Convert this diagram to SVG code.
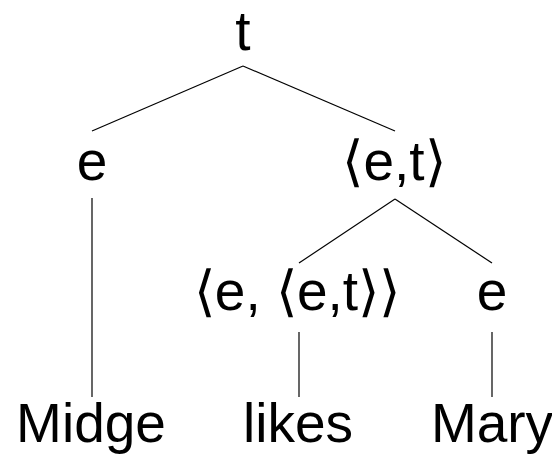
<svg xmlns="http://www.w3.org/2000/svg" width="552" height="454" viewBox="0 0 552 454">
  <style>
    .lbl { font-family: "Liberation Sans", Arial, sans-serif; font-size: 55px; fill: #000; text-anchor: middle; }
    .br { font-family: "DejaVu Sans", sans-serif; font-weight: 200; }
    .edge { stroke: #000; stroke-width: 1.2; fill: none; }
  </style>
  <rect width="552" height="454" fill="#fff"/>

  <!-- tree edges -->
  <g id="edges">
    <line class="edge" x1="243" y1="66" x2="92" y2="131"/>
    <line class="edge" x1="243" y1="66" x2="395" y2="131"/>
    <line class="edge" x1="395" y1="199" x2="299" y2="263"/>
    <line class="edge" x1="395" y1="199" x2="492" y2="263"/>
    <line class="edge" x1="92" y1="198" x2="92" y2="397"/>
    <line class="edge" x1="299" y1="332" x2="299" y2="397"/>
    <line class="edge" x1="492" y1="332" x2="492" y2="397"/>
  </g>

  <!-- type nodes -->
  <g id="n-t"><text class="lbl" x="243" y="50">t</text></g>
  <g id="n-e1"><text class="lbl" x="92" y="180">e</text></g>
  <g id="n-et"><text class="lbl" x="394" y="180"><tspan class="br">⟨</tspan>e,t<tspan class="br">⟩</tspan></text></g>
  <g id="n-eet"><text class="lbl" x="297" y="310"><tspan class="br">⟨</tspan>e, <tspan class="br">⟨</tspan>e,t<tspan class="br">⟩⟩</tspan></text></g>
  <g id="n-e2"><text class="lbl" x="492" y="310">e</text></g>

  <!-- words -->
  <g id="w-midge"><text class="lbl" x="91" y="442">Midge</text></g>
  <g id="w-likes"><text class="lbl" x="298" y="442">likes</text></g>
  <g id="w-mary"><text class="lbl" x="492" y="442">Mary</text></g>
</svg>
